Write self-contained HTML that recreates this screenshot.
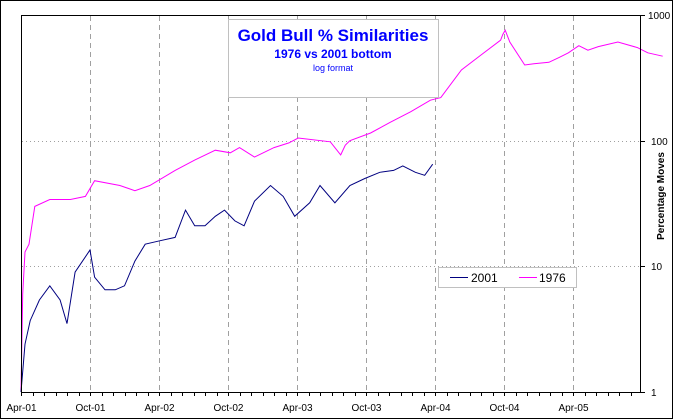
<!DOCTYPE html>
<html><head><meta charset="utf-8"><style>
body{margin:0;background:#fff}
svg{display:block;font-family:"Liberation Sans",Arial,sans-serif}
</style></head><body>
<svg id="c" width="673" height="419" xmlns="http://www.w3.org/2000/svg">
<rect x="0.5" y="0.5" width="672" height="418" fill="#fff" stroke="#000"/>
<g id="grid"></g>
<g id="series"></g>
<rect x="21.5" y="15.5" width="619" height="377" fill="none" stroke="#000"/>
<g id="axes"></g>
<g>
<rect x="228.5" y="19.5" width="210" height="78" fill="#fff" stroke="#c0c0c0"/>
<text x="333" y="41" text-anchor="middle" font-size="17" font-weight="bold" fill="#0000ff">Gold Bull % Similarities</text>
<text x="333" y="58" text-anchor="middle" font-size="12" font-weight="bold" fill="#0000ff">1976 vs 2001 bottom</text>
<text x="333" y="71" text-anchor="middle" font-size="9" fill="#0000ff">log format</text>
</g>
<g>
<rect x="438.5" y="267.5" width="138" height="20" fill="#fff" stroke="#c0c0c0"/>
<line x1="450" y1="277.5" x2="468" y2="277.5" stroke="#000080"/>
<text x="471" y="282" font-size="12">2001</text>
<line x1="519" y1="277.5" x2="537" y2="277.5" stroke="#ff00ff"/>
<text x="539" y="282" font-size="12">1976</text>
</g>
<text transform="translate(664,196) rotate(-90)" text-anchor="middle" font-size="10" font-weight="bold">Percentage Moves</text>
</svg>
<script>
// months since Apr-01
const xLabels = ["Apr-01","Oct-01","Apr-02","Oct-02","Apr-03","Oct-03","Apr-04","Oct-04","Apr-05"];
const yTicks = [1,10,100,1000];
const m2001 = [0,0.35,0.8,1.6,2.5,3.4,4.0,4.7,6.0,6.4,7.3,8.2,9.0,9.9,10.8,12.1,13.4,14.3,15.1,16.0,16.9,17.7,18.6,19.4,20.3,21.7,22.8,23.8,25.1,26.0,27.3,28.6,29.9,31.2,32.4,33.2,34.3,35.1,35.8];
const v2001 = [1,2.4,3.7,5.4,7,5.4,3.5,9,13.5,8.2,6.5,6.5,7,11,15,16,17,28,21,21,25,28,23,21,33,44,36,25,32,44,32,44,50,56,58,63,56,53,65];
const m1976 = [0,0.15,0.35,0.7,1.2,2.5,4.3,5.6,6.4,8.6,9.9,11.2,13.4,15.1,16.9,18.2,19.0,20.3,22.0,23.3,24.1,26.9,27.8,28.2,28.6,30.4,32.1,33.9,35.6,36.5,38.3,40.0,41.7,41.9,42.1,42.5,43.8,44.6,45.9,46.8,47.6,48.5,49.3,50.2,51.9,53.6,54.5,55.8];
const v1976 = [1,6,13,15,30,34,34,36,48,44,40,44,58,70,84,80,88,74,88,96,105,98,77,92,100,115,140,170,210,220,365,480,630,700,757,610,400,410,420,460,500,570,525,560,610,550,500,470];

const svg=document.getElementById('c');
const NS="http://www.w3.org/2000/svg";
const X0=21,PX_PER_M=69/6,YB=392,DEC=125.67;
const xs=m=>X0+m*PX_PER_M;
const ys=v=>YB-Math.log10(v)*DEC;
function mk(t,a,p){const e=document.createElementNS(NS,t);for(const k in a)e.setAttribute(k,a[k]);p.appendChild(e);return e;}
const grid=document.getElementById('grid'),axes=document.getElementById('axes'),ser=document.getElementById('series');
xLabels.forEach((l,i)=>{
  const x=Math.round(xs(i*6))+0.5;
  if(i>0){const g=mk('line',{x1:x,y1:16,x2:x,y2:392,stroke:'#a0a0a0','stroke-dasharray':'5,4'},grid);
  
  }
  const t=mk('text',{x:x,y:411,'text-anchor':'middle','font-size':'10'},axes);t.textContent=l;
  
  
});
for(let m=0;m<=54;m++){const x=Math.round(xs(m))+0.5;if(x>641)break;
  const tk=mk('line',{x1:x,y1:392,x2:x,y2:396,stroke:'#000'},axes);
  
  }
yTicks.forEach(v=>{
  const y=Math.round(ys(v))+0.5;
  if(v>1&&v<1000){const g=mk('line',{x1:22,y1:y,x2:640,y2:y,stroke:'#a0a0a0','stroke-dasharray':'1,3'},grid);
  
  }
  const tk=mk('line',{x1:640,y1:y,x2:645,y2:y,stroke:'#000'},axes);
  
  
  const t=mk('text',{x:v===1000?648:651,y:y+3.5,'font-size':'10'},axes);t.textContent=v;
  
  
});
function line(ms,vs,col,name){
  const pts=ms.map((m,i)=>xs(m).toFixed(1)+','+ys(vs[i]).toFixed(1)).join(' ');
  const p=mk('polyline',{points:pts,fill:'none',stroke:col,'stroke-width':1},ser);
  
  
}
line(m1976,v1976,'#ff00ff','series-1976-line');
line(m2001,v2001,'#000080','series-2001-line');
</script>
</body></html>
